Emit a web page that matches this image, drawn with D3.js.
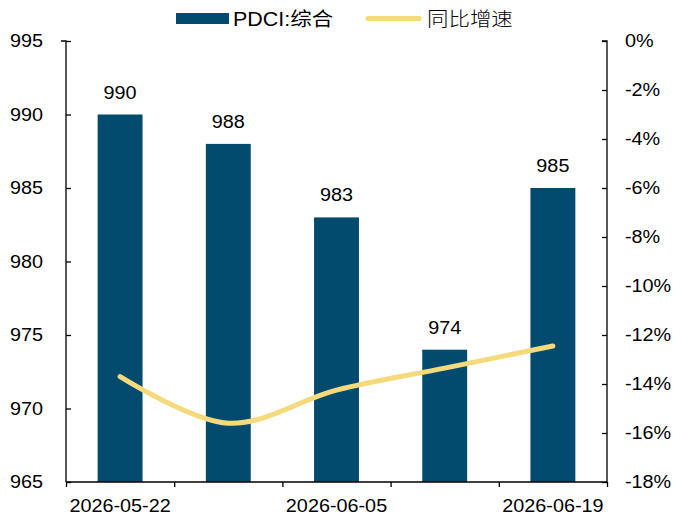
<!DOCTYPE html>
<html><head><meta charset="utf-8">
<script src="https://cdn.jsdelivr.net/npm/d3@7"></script>
<style>body{margin:0;background:#fff}svg{display:block}text{font-family:"Liberation Sans",Arial,sans-serif;fill:#000}</style>
</head><body><svg id="c" width="673" height="521"></svg>
<script>
const categories = ["2026-05-22","2026-05-29","2026-06-05","2026-06-12","2026-06-19"];
const xTickLabels = ["2026-05-22","","2026-06-05","","2026-06-19"];
const pdciValues = [990, 988, 983, 974, 985];
const yoyValues = [-13.7, -15.6, -14.25, -13.35, -12.45];
const leftTicks = [965, 970, 975, 980, 985, 990, 995];
const rightTicks = [0, -2, -4, -6, -8, -10, -12, -14, -16, -18];
const seriesNames = ["PDCI:综合", "同比增速"];
const barColor = "#024B6F", lineColor = "#F5DA7C";

const svg = d3.select("#c");
const m = {l:66, r:607, t:41, b:482};
const x = d3.scaleBand().domain(categories).range([m.l, m.r]).paddingInner(0.585).paddingOuter(0.2925);
const yL = d3.scaleLinear().domain([965, 995]).range([m.b, m.t]);
const yR = d3.scaleLinear().domain([-18, 0]).range([m.b, m.t]);

function stretch(sel){ sel.each(function(){ const w=this.getComputedTextLength(); if(w>0){ d3.select(this).attr("textLength", w*1.1).attr("lengthAdjust","spacingAndGlyphs"); } }); }

// bars
svg.append("g").selectAll("rect").data(pdciValues).join("rect")
  .attr("x", (d,i)=>x(categories[i])).attr("width", x.bandwidth())
  .attr("y", d=>yL(d)).attr("height", d=>yL(965)-yL(d))
  .attr("fill", barColor);
// value labels
const vl = svg.append("g").selectAll("text").data(pdciValues).join("text")
  .attr("x", (d,i)=>x(categories[i])+x.bandwidth()/2).attr("y", d=>yL(d)-16)
  .attr("text-anchor","middle").attr("font-size",18).text(d=>d);
stretch(vl);

// line
const line = d3.line().x((d,i)=>x(categories[i])+x.bandwidth()/2).y(d=>yR(d)).curve(d3.curveCatmullRom.alpha(0.5));
svg.append("path").datum(yoyValues).attr("d", line).attr("fill","none")
  .attr("stroke", lineColor).attr("stroke-width",5).attr("stroke-linecap","round");

// left axis
const gl = svg.append("g").attr("transform",`translate(${m.l},0)`)
  .call(d3.axisLeft(yL).tickValues(leftTicks).tickSize(-5).tickPadding(23).tickFormat(d3.format("d")));
// right axis
const gr = svg.append("g").attr("transform",`translate(${m.r},0)`)
  .call(d3.axisRight(yR).tickValues(rightTicks).tickSize(-5).tickPadding(18).tickFormat(d=>d+"%"));
// bottom axis
const xb = d3.scaleLinear().domain([0,5]).range([m.l, m.r]);
const gb = svg.append("g").attr("transform",`translate(0,${m.b})`)
  .call(d3.axisBottom(xb).tickValues([0,1,2,3,4,5]).tickSize(5).tickFormat(""));
const gbl = svg.append("g").attr("transform",`translate(0,${m.b})`)
  .call(d3.axisBottom(x).tickSize(0).tickPadding(17).tickFormat((d,i)=>xTickLabels[i]));
gbl.select(".domain").remove();
[gl,gr,gb].forEach(g=>{g.select(".domain").attr("stroke","#000").attr("stroke-width",1.3);g.selectAll(".tick line").attr("stroke","#000").attr("stroke-width",1.3);});
svg.selectAll(".tick text").attr("font-size",18).attr("font-family",'"Liberation Sans",Arial,sans-serif').attr("fill","#000");
stretch(svg.selectAll(".tick text"));
gl.select(".domain").attr("d",`M-5,${m.t}H0V${m.b}`);
gr.select(".domain").attr("d",`M-5,${m.t}H0V${m.b}`);
gb.select(".domain").attr("d",`M${m.l},0H${m.r}`);

// legend
const lg = svg.append("g");
lg.append("rect").attr("x",176).attr("y",13).attr("width",53).attr("height",11).attr("fill",barColor);
const t1 = lg.append("text").attr("x",233).attr("y",26).attr("font-size",19.5).text(seriesNames[0])
  .style("font-family",'"Liberation Sans","Noto Sans CJK SC",sans-serif');
lg.append("line").attr("x1",368).attr("x2",419).attr("y1",18.5).attr("y2",18.5).attr("stroke",lineColor).attr("stroke-width",5).attr("stroke-linecap","round");
const t2 = lg.append("text").attr("x",427).attr("y",26).attr("font-size",19.5).text(seriesNames[1])
  .style("font-family",'"Noto Sans CJK SC",sans-serif').attr("font-weight",300);
stretch(t1); stretch(t2);
</script></body></html>
